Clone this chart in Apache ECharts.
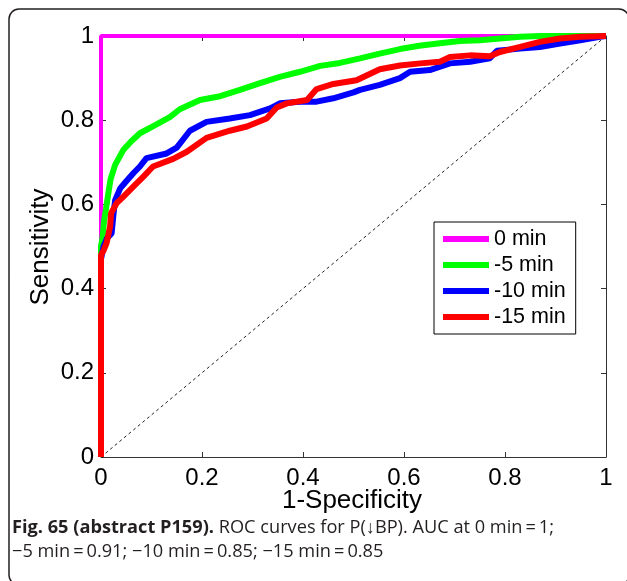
<!DOCTYPE html>
<html>
<head>
<meta charset="utf-8">
<script src="https://cdn.jsdelivr.net/npm/echarts@6/dist/echarts.min.js"></script>
<style>html,body{margin:0;padding:0;background:#fff;}#c{width:627px;height:581px;}</style>
</head>
<body>
<div id="c"></div>
<script>
const seriesNames = ['0 min', '-5 min', '-10 min', '-15 min'];
const seriesColors = ['#ff00ff', '#00ff00', '#0000ff', '#ff0000'];
const xTicks = [0, 0.2, 0.4, 0.6, 0.8, 1];
const yTicks = [0, 0.2, 0.4, 0.6, 0.8, 1];
const chanceLine = [[0, 0], [1, 1]];
const roc0 = [[0, 0], [0, 1], [1, 1]];
const roc5 = [[0,0],[0,0.5],[0.003,0.52],[0.006,0.56],[0.01,0.59],[0.015,0.63],[0.019,0.66],[0.028,0.694],[0.044,0.729],[0.06,0.75],[0.077,0.769],[0.11,0.79],[0.137,0.808],[0.156,0.826],[0.196,0.848],[0.236,0.857],[0.275,0.872],[0.315,0.888],[0.354,0.903],[0.394,0.915],[0.434,0.929],[0.473,0.936],[0.513,0.947],[0.552,0.958],[0.592,0.969],[0.63,0.977],[0.671,0.983],[0.711,0.988],[0.75,0.99],[0.79,0.994],[0.83,0.998],[0.87,1],[1,1]];
const roc10 = [[0,0],[0,0.47],[0.005,0.5],[0.012,0.52],[0.021,0.531],[0.025,0.58],[0.028,0.61],[0.038,0.638],[0.05,0.655],[0.064,0.674],[0.077,0.69],[0.09,0.71],[0.13,0.721],[0.15,0.735],[0.176,0.775],[0.209,0.796],[0.255,0.804],[0.295,0.812],[0.335,0.828],[0.354,0.84],[0.394,0.844],[0.427,0.844],[0.46,0.852],[0.5,0.866],[0.513,0.872],[0.552,0.884],[0.592,0.9],[0.612,0.915],[0.651,0.919],[0.691,0.935],[0.731,0.939],[0.77,0.947],[0.784,0.965],[0.83,0.97],[0.869,0.974],[0.909,0.982],[0.949,0.99],[0.988,0.998],[1,1]];
const roc15 = [[0,0],[0,0.48],[0.005,0.49],[0.011,0.508],[0.018,0.547],[0.02,0.579],[0.031,0.603],[0.044,0.618],[0.064,0.642],[0.084,0.666],[0.103,0.69],[0.143,0.708],[0.17,0.725],[0.209,0.758],[0.255,0.775],[0.289,0.785],[0.328,0.804],[0.348,0.83],[0.368,0.84],[0.408,0.848],[0.427,0.874],[0.46,0.886],[0.506,0.895],[0.552,0.921],[0.592,0.93],[0.632,0.935],[0.671,0.939],[0.691,0.95],[0.731,0.954],[0.77,0.952],[0.79,0.962],[0.83,0.974],[0.869,0.986],[0.909,0.994],[0.949,0.998],[1,1]];
const rocData = [roc0, roc5, roc10, roc15];
const xTitle = '1-Specificity';
const yTitle = 'Sensitivity';
const captionBold = 'Fig. 65 (abstract P159).';
const captionRest = ' ROC curves for P(\u2193BP). AUC at 0 min\u2009=\u20091;';
const captionLine2 = '\u22125 min\u2009=\u20090.91; \u221210 min\u2009=\u20090.85; \u221215 min\u2009=\u20090.85';

const font = 'Liberation Sans, Arial, sans-serif';
const capFont = 'Open Sans, sans-serif';
const axisColor = '#333';
function mkAxis(type, pos, showLabel, ticks) {
  return {
    type: 'value', position: pos, min: 0, max: 1, interval: 0.2,
    axisLine: { show: true, onZero: false, lineStyle: { color: axisColor, width: 1 } },
    axisTick: { show: true, inside: true, length: 5, lineStyle: { color: axisColor } },
    splitLine: { show: false },
    axisLabel: {
      show: showLabel, color: '#000', fontSize: 24, fontFamily: font,
      margin: type === 'x' ? 9 : 7,
      formatter: v => { const t = ticks.find(k => Math.abs(k - v) < 1e-9); return t === undefined ? '' : String(t); }
    }
  };
}
const lineWidths = [4, 6, 6, 6];
const series = [{
  type: 'line', name: 'chance', data: chanceLine, symbol: 'none', silent: true,
  lineStyle: { color: '#222', width: 1, type: [3, 3] }, z: 1
}];
seriesNames.forEach((n, i) => {
  series.push({
    type: 'line', name: n, data: rocData[i], symbol: 'none', clip: false,
    lineStyle: { color: seriesColors[i], width: lineWidths[i] },
    itemStyle: { color: seriesColors[i] }, z: 2 + i
  });
});
const chart = echarts.init(document.getElementById('c'));
chart.setOption({
  animation: false,
  backgroundColor: '#fff',
  grid: { left: 101, right: 21, top: 36, bottom: 124 },
  xAxis: [mkAxis('x', 'bottom', true, xTicks), mkAxis('x', 'top', false, xTicks)],
  yAxis: [mkAxis('y', 'left', true, yTicks), mkAxis('y', 'right', false, yTicks)],
  legend: {
    orient: 'vertical', left: 434, top: 222,
    data: seriesNames.map((n, i) => ({ name: n, icon: 'rect', itemStyle: { color: seriesColors[i] } })),
    itemWidth: 46, itemHeight: 6, itemGap: 4,
    padding: [6, 10, 6, 9],
    backgroundColor: '#fff', borderColor: '#000', borderWidth: 1,
    textStyle: { fontSize: 21.5, fontFamily: font, color: '#000' },
    selectedMode: false
  },
  series: series,
  graphic: [
    { type: 'rect', shape: { x: 9, y: 9, width: 620, height: 576, r: 10 }, style: { fill: 'none', stroke: '#231f20', lineWidth: 1.5 }, silent: true, z: 0 },
    { type: 'text', x: 352, y: 501, style: { text: xTitle, fontSize: 26, fontFamily: font, fill: '#000', align: 'center', verticalAlign: 'middle' } },
    { type: 'text', x: 41, y: 247, rotation: Math.PI / 2, style: { text: yTitle, fontSize: 26, fontFamily: font, fill: '#000', align: 'center', verticalAlign: 'middle' } },
    { type: 'text', x: 12, y: 528, style: {
        text: '{b|' + captionBold + '}{r|' + captionRest + '}',
        verticalAlign: 'middle',
        rich: {
          b: { fontSize: 18.2, fontWeight: 'bold', fontFamily: capFont, fill: '#231f20' },
          r: { fontSize: 18.2, fontFamily: capFont, fill: '#231f20' }
        } } },
    { type: 'text', x: 12, y: 552, style: { text: captionLine2, fontSize: 18.2, fontFamily: capFont, fill: '#231f20', verticalAlign: 'middle' } }
  ]
});
</script>
</body>
</html>
